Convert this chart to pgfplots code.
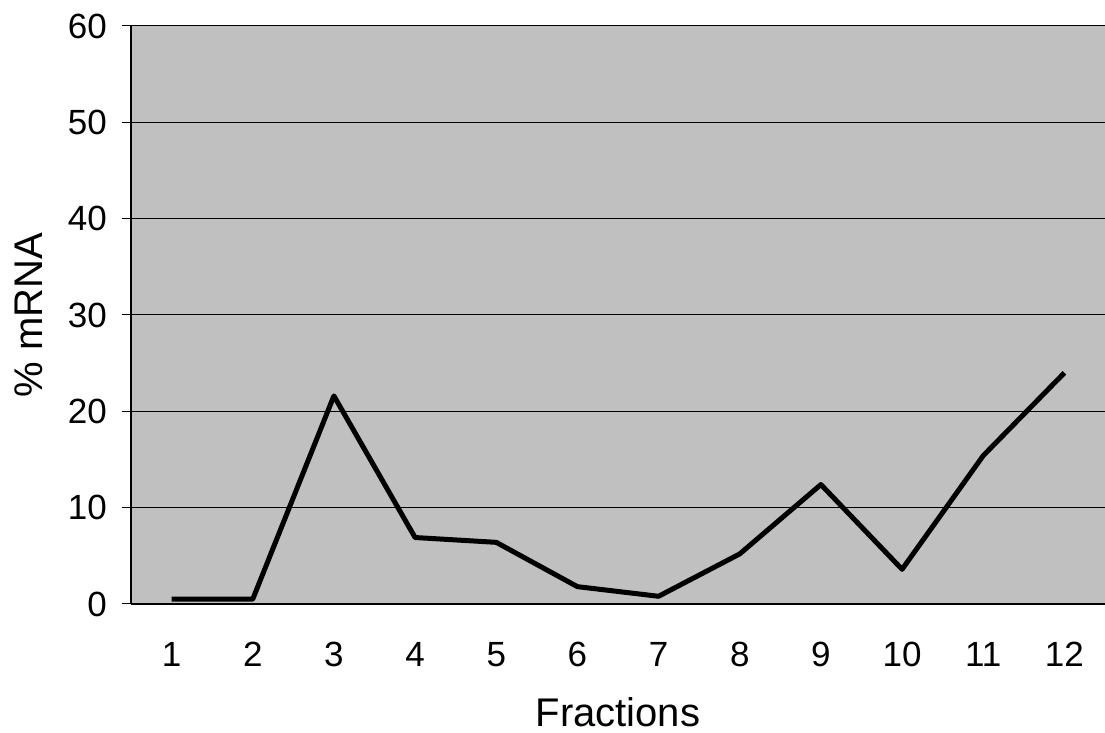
\documentclass[border=0pt]{standalone}
\usepackage{fontspec}
\setmainfont{Liberation Sans}
\usepackage{pgfplots}
\pgfplotsset{compat=1.18}
\definecolor{plotbg}{RGB}{192,192,192}
\begin{document}
\begin{tikzpicture}
\useasboundingbox (0,0) rectangle (552.5pt,366.5pt);
\begin{axis}[
  at={(65.5pt,64.5pt)}, anchor=south west,
  scale only axis, width=487pt, height=289pt,
  xmin=0.5, xmax=12.5, ymin=0, ymax=60,
  axis background/.style={fill=plotbg},
  axis x line*=bottom, axis y line*=left,
  axis line style={-, black, line width=0.6pt},
  xtick={1,...,12},
  xticklabels={1,2,3,4,5,6,7,8,9,10,11,12},
  major x tick style={draw=none},
  extra x ticks={0.5,1.5,2.5,3.5,4.5,5.5,6.5,7.5,8.5,9.5,10.5,11.5,12.5},
  extra x tick labels={},
  extra x tick style={tick align=center, major tick length=10pt, tick style={black, line width=0.5pt}},
  ytick={0,10,...,60},
  tick align=outside,
  major tick length=4.5pt,
  tick style={black, line width=0.5pt},
  ymajorgrids, grid style={black, line width=0.5pt},
  /pgf/number format/assume math mode=true,
  tick label style={font=\fontsize{17.5}{21}\selectfont},
  xticklabel style={yshift=-11pt},
  yticklabel style={xshift=-4pt},
  xlabel={Fractions}, ylabel={\% mRNA},
  label style={font=\fontsize{20}{24}\selectfont},
  xlabel style={at={(axis description cs:0.5,0)}, anchor=base, yshift=-61.5pt},
  ylabel style={at={(axis description cs:0,0.5)}, anchor=center, yshift=51pt},
]
\addplot[black, line width=2.5pt, line join=round] coordinates {
  (1,0.5) (2,0.5) (3,21.6) (4,6.9) (5,6.4) (6,1.8) (7,0.8) (8,5.2) (9,12.4) (10,3.6) (11,15.4) (12,24.0)
};
\end{axis}
\end{tikzpicture}
\end{document}
